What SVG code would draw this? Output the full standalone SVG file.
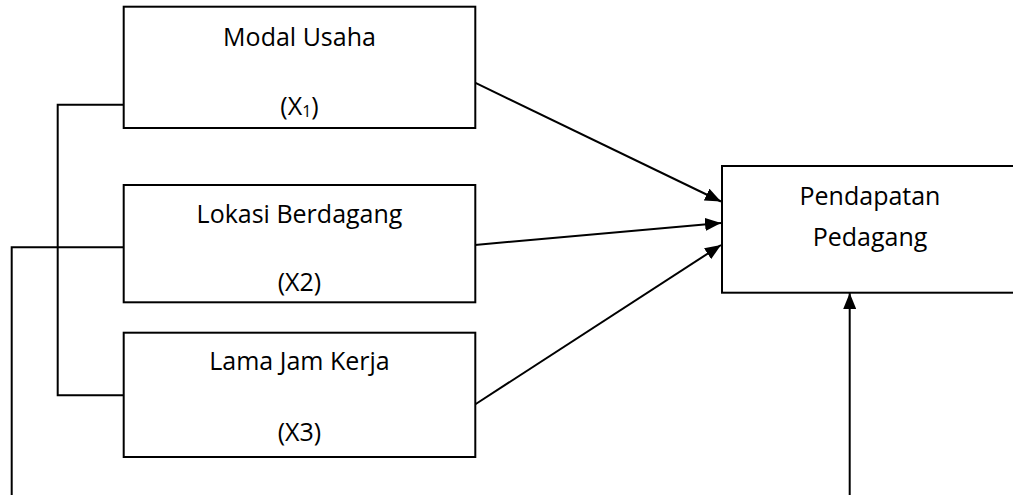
<svg xmlns="http://www.w3.org/2000/svg" width="1013" height="495" viewBox="0 0 1013 495">
<style>
.box{fill:#fff;stroke:#000;stroke-width:2}
.t{font-family:"Open Sans","Noto Sans",sans-serif;font-size:25px;fill:#000;text-anchor:middle}
.c{fill:none;stroke:#000;stroke-width:2}
</style>
<defs>
<marker id="ah" markerUnits="userSpaceOnUse" markerWidth="16" markerHeight="13" refX="16" refY="6.5" orient="auto">
<path d="M0,0 L16,6.5 L0,13 z" fill="#000"/>
</marker>
</defs>
<rect width="1013" height="495" fill="#fff"/>
<g id="connectors">
<polyline class="c" points="123.7,104.7 57.7,104.7 57.7,395.3 123.7,395.3"/>
<polyline class="c" points="123.7,247.3 11.7,247.3 11.7,497"/>
<line class="c" x1="475" y1="82.7" x2="721" y2="201.5" marker-end="url(#ah)"/>
<line class="c" x1="475" y1="245" x2="721" y2="223" marker-end="url(#ah)"/>
<line class="c" x1="475" y1="404.5" x2="721" y2="245" marker-end="url(#ah)"/>
<line class="c" x1="849.7" y1="497" x2="849.7" y2="293" marker-end="url(#ah)"/>
</g>
<g id="modal">
<rect class="box" x="123.7" y="6.7" width="351.6" height="121.3"/>
<text class="t" x="299.5" y="45.7">Modal Usaha</text>
<text class="t" x="299.5" y="115">(X<tspan font-size="16" dy="2">1</tspan><tspan dy="-2">)</tspan></text>
</g>
<g id="lokasi">
<rect class="box" x="123.7" y="185" width="351.6" height="117.3"/>
<text class="t" x="299.5" y="222.7">Lokasi Berdagang</text>
<text class="t" x="299.5" y="290.7">(X2)</text>
</g>
<g id="lama">
<rect class="box" x="123.7" y="332.7" width="351.6" height="124.3"/>
<text class="t" x="299.5" y="370">Lama Jam Kerja</text>
<text class="t" x="299.5" y="440.7">(X3)</text>
</g>
<g id="pendapatan">
<rect class="box" x="722" y="166" width="296" height="126.7"/>
<text class="t" x="870" y="205">Pendapatan</text>
<text class="t" x="870" y="245.7">Pedagang</text>
</g>
</svg>
